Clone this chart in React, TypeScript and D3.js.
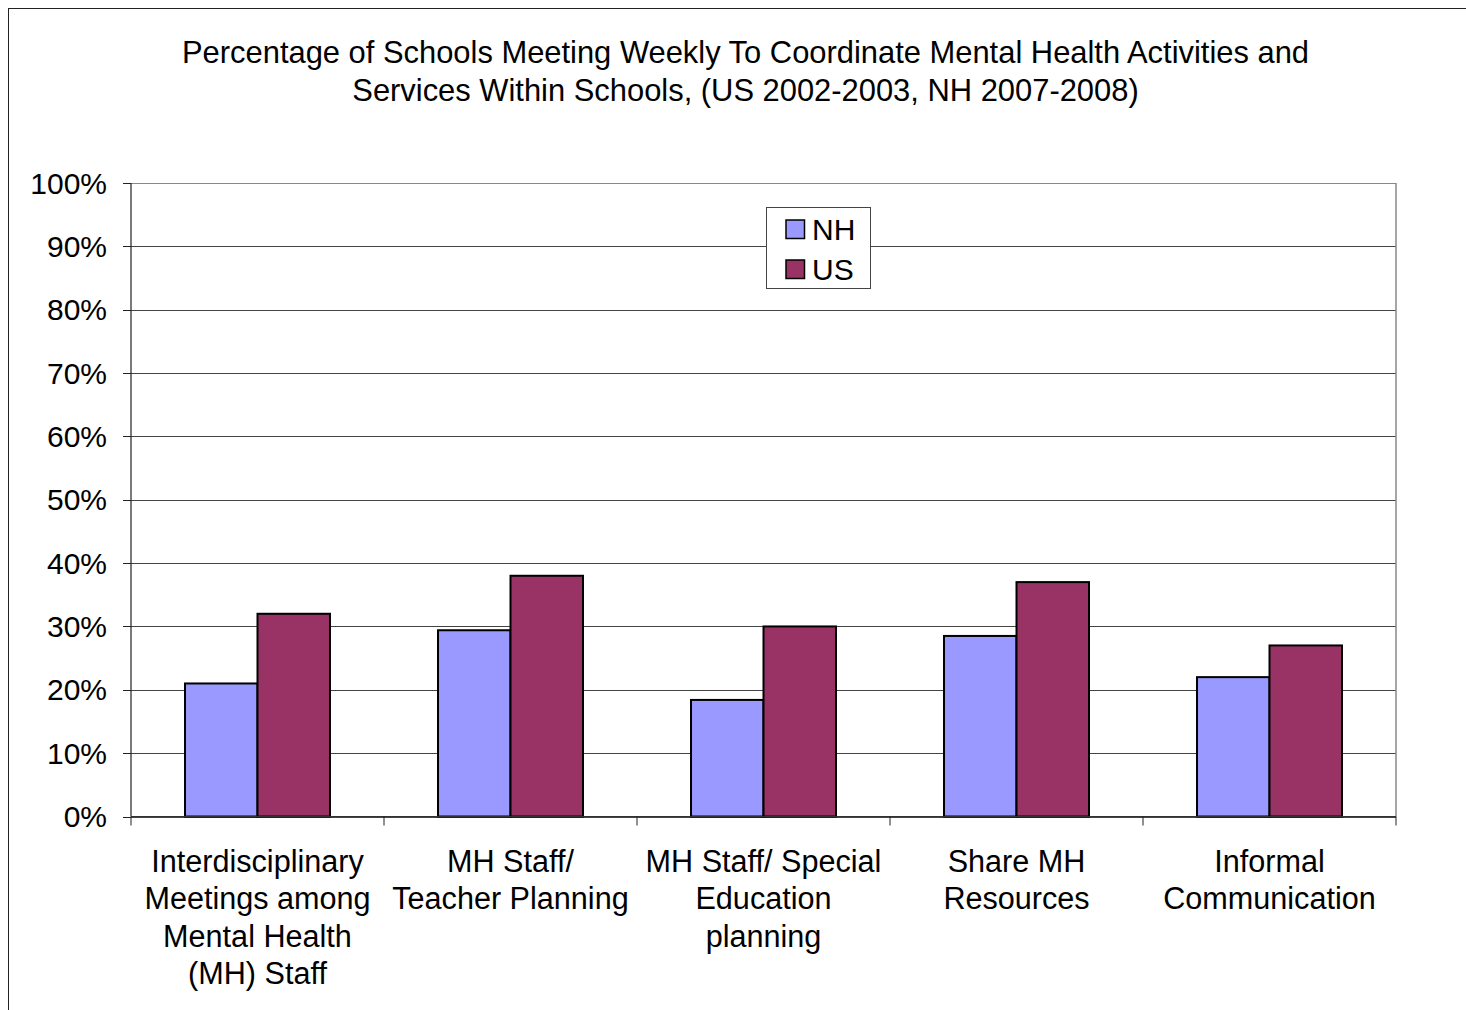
import React from "react";
import * as d3 from "d3";

const titleLines = [
  "Percentage of Schools Meeting Weekly To Coordinate Mental Health Activities and",
  "Services Within Schools, (US 2002-2003, NH 2007-2008)",
];
const categories = [
  ["Interdisciplinary", "Meetings among", "Mental Health", "(MH) Staff"],
  ["MH Staff/", "Teacher Planning"],
  ["MH Staff/ Special", "Education", "planning"],
  ["Share MH", "Resources"],
  ["Informal", "Communication"],
];
const seriesNames = ["NH", "US"];
const nhValues = [0.21, 0.294, 0.184, 0.285, 0.22];
const usValues = [0.32, 0.38, 0.30, 0.37, 0.27];
const seriesColors = ["#9999FF", "#993366"];
const yTicks = [0, 0.1, 0.2, 0.3, 0.4, 0.5, 0.6, 0.7, 0.8, 0.9, 1.0];

const W = 1466;
const H = 1010;
const FONT = "'Liberation Sans', Arial, Helvetica, sans-serif";

export default function App() {
  const left = 131, right = 1396, top = 183, bottom = 816.5;
  const x = d3.scaleBand<number>().domain(categories.map((_, i) => i)).range([left, right]).padding(0);
  const groupW = x.bandwidth() * 0.573;
  const sub = d3.scaleBand<number>().domain([0, 1]).range([0, groupW]).padding(0);
  const y = d3.scaleLinear().domain([0, 1]).range([bottom, top]);
  const series = [nhValues, usValues];
  const fmt = d3.format(".0%");

  return (
    <svg width={W} height={H} style={{ position: "absolute", left: 0, top: 0 }} fontFamily={FONT}>
      <rect x={0} y={0} width={W} height={H} fill="#fff" />
      <rect x={8.5} y={8.5} width={W + 20} height={H + 20} fill="none" stroke="#222" strokeWidth={1} />
      {titleLines.map((t, i) => (
        <text key={i} x={745.5} y={63 + i * 38} textAnchor="middle" fontSize={30.9} fill="#000">{t}</text>
      ))}
      {yTicks.map((t) => (
        <line key={t} x1={left} x2={right} y1={Math.round(y(t)) + 0.5} y2={Math.round(y(t)) + 0.5}
          stroke={t === 1 ? "#888" : "#444"} strokeWidth={1} />
      ))}
      <line x1={right} x2={right} y1={top} y2={bottom} stroke="#888" strokeWidth={1.5} />
      {series.map((vals, s) =>
        vals.map((v, i) => (
          <rect key={`${s}-${i}`}
            x={(x(i) as number) + (x.bandwidth() - groupW) / 2 + (sub(s) as number)}
            y={y(v)} width={sub.bandwidth()} height={bottom - y(v)}
            fill={seriesColors[s]} stroke="#000" strokeWidth={2} />
        ))
      )}
      <line x1={left} x2={left} y1={top} y2={bottom} stroke="#222" strokeWidth={1.2} />
      <line x1={left} x2={right} y1={bottom} y2={bottom} stroke="#333" strokeWidth={1.2} />
      {yTicks.map((t) => (
        <g key={"yt" + t}>
          <line x1={123} x2={left} y1={Math.round(y(t)) + 0.5} y2={Math.round(y(t)) + 0.5} stroke="#222" />
          <text x={107} y={y(t) + 10.5} textAnchor="end" fontSize={30} fill="#000">{fmt(t)}</text>
        </g>
      ))}
      {d3.range(categories.length + 1).map((i) => {
        const xx = i < categories.length ? (x(i) as number) : right;
        return <line key={"xt" + i} x1={xx} x2={xx} y1={bottom} y2={bottom + 9} stroke="#222" />;
      })}
      {categories.map((lines, i) => (
        <text key={"cl" + i} textAnchor="middle" fontSize={30.6} fill="#000">
          {lines.map((l, j) => (
            <tspan key={j} x={(x(i) as number) + x.bandwidth() / 2} y={871.5 + j * 37.5}>{l}</tspan>
          ))}
        </text>
      ))}
      <rect x={766.5} y={207.5} width={104} height={81} fill="#fff" stroke="#444" strokeWidth={1} />
      {seriesNames.map((n, i) => (
        <g key={n}>
          <rect x={786} y={220 + i * 40} width={18.5} height={18.5} fill={seriesColors[i]} stroke="#000" strokeWidth={1.5} />
          <text x={812} y={240 + i * 40} fontSize={30} fill="#000">{n}</text>
        </g>
      ))}
    </svg>
  );
}
